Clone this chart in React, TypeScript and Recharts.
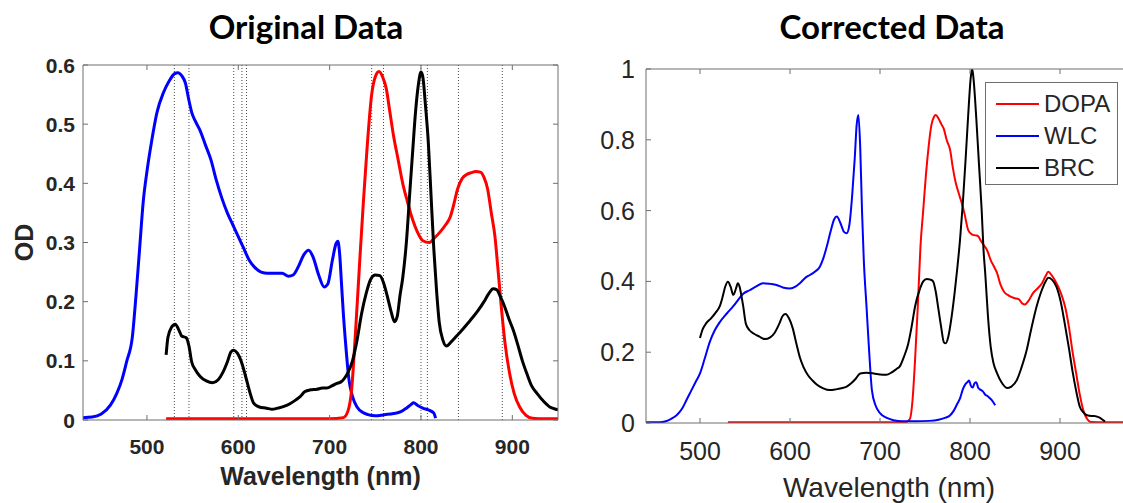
import { LineChart, Line, XAxis, YAxis, ReferenceLine, Legend } from 'recharts';

type Pt = [number, number];

// ---- tick values ----
const xTicks = [500, 600, 700, 800, 900];
const yTicksOrig = [0, 0.1, 0.2, 0.3, 0.4, 0.5, 0.6];
const yTicksCorr = [0, 0.2, 0.4, 0.6, 0.8, 1];
const legendOrder = ['DOPA', 'WLC', 'BRC'];

// dotted markers on the original-data panel (nm)
const markers = [530, 546, 595, 604, 609, 746, 759, 800, 807, 841, 889];

// ---- original data (nm, OD) ----
const wlcOrig: Pt[] = [
  [430, 0.004], [440, 0.005], [450, 0.01], [460, 0.025], [467, 0.045], [473, 0.07], [478, 0.1], [484, 0.14],
  [488, 0.21], [492, 0.29], [496, 0.37], [500, 0.42], [505, 0.47], [511, 0.52], [518, 0.553], [524, 0.572],
  [530, 0.585], [534, 0.587], [538, 0.582], [542, 0.57], [546, 0.54], [549, 0.52], [553, 0.505], [558, 0.49],
  [564, 0.465], [570, 0.44], [576, 0.405], [582, 0.375], [588, 0.35], [594, 0.33], [600, 0.31], [606, 0.29],
  [612, 0.27], [618, 0.258], [625, 0.25], [632, 0.248], [640, 0.248], [648, 0.248], [655, 0.243], [660, 0.245],
  [666, 0.26], [672, 0.28], [677, 0.287], [682, 0.275], [688, 0.245], [694, 0.225], [698, 0.23], [703, 0.27],
  [707, 0.298], [709, 0.302], [711, 0.28], [713, 0.23], [715, 0.18], [718, 0.12], [721, 0.07], [725, 0.04],
  [730, 0.022], [736, 0.013], [742, 0.009], [750, 0.007], [760, 0.009], [770, 0.011], [778, 0.014], [784, 0.02],
  [789, 0.026], [792, 0.029], [796, 0.025], [802, 0.02], [808, 0.017], [814, 0.012], [816, 0.003],
];

const dopaOrig: Pt[] = [
  [521, 0.002], [600, 0.002], [700, 0.002], [715, 0.004], [720, 0.015], [724, 0.05], [728, 0.14], [733, 0.27],
  [737, 0.37], [741, 0.46], [746, 0.55], [750, 0.58], [754, 0.589], [758, 0.58], [762, 0.56], [766, 0.52],
  [770, 0.48], [775, 0.44], [780, 0.4], [785, 0.37], [791, 0.338], [796, 0.318], [802, 0.303], [809, 0.3],
  [815, 0.308], [821, 0.318], [827, 0.33], [832, 0.343], [836, 0.365], [840, 0.39], [845, 0.408], [850, 0.415],
  [855, 0.418], [860, 0.42], [865, 0.419], [869, 0.41], [873, 0.39], [877, 0.35], [881, 0.31], [884, 0.26],
  [888, 0.19], [892, 0.13], [897, 0.079], [902, 0.045], [908, 0.022], [915, 0.008], [922, 0.003], [935, 0.002],
  [950, 0.002],
];

const brcOrig: Pt[] = [
  [521, 0.11], [523, 0.14], [527, 0.157], [531, 0.162], [535, 0.152], [538, 0.142], [543, 0.139], [546, 0.125],
  [549, 0.098], [553, 0.085], [558, 0.074], [565, 0.066], [572, 0.063], [578, 0.068], [583, 0.08], [588, 0.098],
  [592, 0.115], [595, 0.118], [599, 0.113], [603, 0.1], [606, 0.085], [609, 0.068], [613, 0.045], [617, 0.028],
  [623, 0.022], [631, 0.02], [637, 0.018], [643, 0.02], [650, 0.023], [657, 0.028], [663, 0.034], [668, 0.04],
  [673, 0.048], [679, 0.051], [686, 0.052], [692, 0.054], [697, 0.054], [703, 0.058], [708, 0.062], [712, 0.064],
  [716, 0.07], [720, 0.08], [725, 0.1], [730, 0.135], [735, 0.18], [740, 0.214], [745, 0.238], [750, 0.245],
  [755, 0.244], [759, 0.232], [763, 0.21], [767, 0.185], [771, 0.166], [774, 0.175], [777, 0.21], [780, 0.24],
  [784, 0.3], [788, 0.39], [791, 0.456], [794, 0.52], [797, 0.565], [800, 0.588], [802, 0.58], [805, 0.53],
  [808, 0.47], [811, 0.38], [814, 0.29], [817, 0.22], [820, 0.165], [824, 0.135], [828, 0.125], [833, 0.132],
  [839, 0.142], [845, 0.152], [851, 0.163], [857, 0.174], [863, 0.186], [869, 0.2], [874, 0.213], [879, 0.222],
  [883, 0.22], [887, 0.208], [891, 0.194], [896, 0.172], [901, 0.152], [906, 0.127], [911, 0.1], [916, 0.078],
  [921, 0.058], [927, 0.045], [934, 0.032], [941, 0.022], [946, 0.019], [950, 0.017],
];

// ---- corrected data ----
const dopaCorr: Pt[] = [
  [531, 0.002], [600, 0.002], [700, 0.002], [728, 0.002], [733, 0.01], [736, 0.06], [739, 0.18], [742, 0.33],
  [745, 0.5], [748, 0.6], [751, 0.7], [754, 0.78], [757, 0.84], [760, 0.865], [762, 0.87], [765, 0.86],
  [768, 0.845], [771, 0.83], [774, 0.8], [778, 0.77], [781, 0.72], [784, 0.68], [788, 0.645], [791, 0.62],
  [794, 0.59], [798, 0.545], [802, 0.533], [806, 0.53], [809, 0.528], [812, 0.515], [816, 0.5], [819, 0.488],
  [823, 0.46], [827, 0.44], [830, 0.424], [834, 0.39], [838, 0.37], [843, 0.36], [849, 0.353], [854, 0.35],
  [858, 0.338], [861, 0.335], [865, 0.345], [870, 0.367], [875, 0.38], [880, 0.395], [884, 0.415], [887, 0.427],
  [890, 0.42], [894, 0.405], [898, 0.385], [902, 0.36], [906, 0.325], [910, 0.27], [914, 0.2], [918, 0.14],
  [922, 0.08], [926, 0.035], [930, 0.012], [934, 0.003], [950, 0.002], [980, 0.002],
];

const wlcCorr: Pt[] = [
  [440, 0.002], [455, 0.002], [462, 0.005], [468, 0.012], [474, 0.022], [480, 0.04], [485, 0.065], [490, 0.09],
  [495, 0.115], [500, 0.14], [505, 0.18], [511, 0.23], [516, 0.26], [522, 0.285], [530, 0.31], [537, 0.33],
  [543, 0.35], [548, 0.365], [555, 0.375], [562, 0.385], [570, 0.395], [578, 0.393], [585, 0.39], [592, 0.383],
  [600, 0.38], [606, 0.385], [611, 0.395], [617, 0.41], [622, 0.418], [628, 0.428], [633, 0.441], [637, 0.465],
  [641, 0.5], [645, 0.54], [649, 0.575], [652, 0.583], [656, 0.565], [660, 0.54], [663, 0.536], [666, 0.56],
  [669, 0.64], [672, 0.75], [674, 0.84], [676, 0.87], [678, 0.78], [680, 0.6], [682, 0.46], [685, 0.33],
  [688, 0.2], [691, 0.093], [695, 0.05], [700, 0.028], [707, 0.015], [715, 0.008], [725, 0.005], [740, 0.005],
  [755, 0.006], [765, 0.009], [773, 0.015], [778, 0.022], [782, 0.035], [786, 0.055], [789, 0.07], [792, 0.095],
  [795, 0.11], [797, 0.115], [799, 0.12], [801, 0.105], [803, 0.1], [805, 0.112], [807, 0.115], [809, 0.1],
  [811, 0.095], [814, 0.09], [817, 0.08], [820, 0.075], [824, 0.065], [828, 0.05],
];

const brcCorr: Pt[] = [
  [500, 0.24], [503, 0.265], [507, 0.282], [512, 0.295], [518, 0.314], [522, 0.33], [525, 0.355], [528, 0.385],
  [531, 0.399], [534, 0.385], [537, 0.362], [540, 0.38], [542, 0.395], [544, 0.385], [546, 0.36], [548, 0.33],
  [551, 0.28], [555, 0.262], [560, 0.252], [566, 0.244], [572, 0.237], [578, 0.242], [583, 0.255], [588, 0.28],
  [592, 0.303], [595, 0.308], [599, 0.295], [603, 0.268], [607, 0.225], [611, 0.185], [615, 0.158], [620, 0.135],
  [625, 0.12], [630, 0.108], [637, 0.098], [644, 0.093], [651, 0.095], [657, 0.098], [663, 0.103], [668, 0.112],
  [673, 0.125], [678, 0.14], [685, 0.142], [693, 0.14], [700, 0.137], [707, 0.136], [713, 0.143], [718, 0.152],
  [722, 0.16], [727, 0.19], [731, 0.22], [735, 0.27], [739, 0.33], [744, 0.376], [748, 0.4], [752, 0.407],
  [756, 0.405], [759, 0.4], [762, 0.37], [765, 0.32], [768, 0.27], [771, 0.228], [773, 0.225], [776, 0.245],
  [779, 0.29], [783, 0.37], [786, 0.44], [789, 0.52], [792, 0.62], [795, 0.74], [798, 0.87], [801, 0.98],
  [802.5, 1.0], [804, 0.97], [807, 0.86], [810, 0.73], [813, 0.6], [815, 0.49], [817, 0.42], [820, 0.3],
  [823, 0.215], [826, 0.17], [830, 0.141], [835, 0.115], [841, 0.099], [846, 0.103], [852, 0.121], [857, 0.155],
  [863, 0.206], [868, 0.265], [874, 0.329], [879, 0.37], [884, 0.4], [887, 0.41], [891, 0.405], [896, 0.385],
  [901, 0.34], [905, 0.285], [910, 0.21], [914, 0.145], [918, 0.09], [922, 0.046], [926, 0.03], [930, 0.022],
  [935, 0.02], [938, 0.02], [941, 0.018], [944, 0.015], [947, 0.01], [950, 0.004],
];

const AXIS = '#6e6e6e';
const TXT = '#262626';
const ARIAL = '"Liberation Sans", Arial, Helvetica, sans-serif';
const TICK = 5;

const rows = (pts: Pt[]) => pts.map(([x, y]) => ({ x, y }));

// MATLAB style ticks: marks point inward, labels outside
const bottomTick = (fs: number, weight: string, gap: number) => (p: any) => (
  <g>
    <line x1={p.x} x2={p.x} y1={p.y} y2={p.y - TICK} stroke={AXIS} />
    <text x={p.x} y={p.y + gap} textAnchor="middle" fontSize={fs} fontWeight={weight} fontFamily={ARIAL} fill={TXT}>
      {p.payload.value}
    </text>
  </g>
);
const leftTick = (fs: number, weight: string, gap: number) => (p: any) => (
  <g>
    <line x1={p.x} x2={p.x + TICK} y1={p.y} y2={p.y} stroke={AXIS} />
    <text x={p.x - gap} y={p.y + fs * 0.36} textAnchor="end" fontSize={fs} fontWeight={weight} fontFamily={ARIAL} fill={TXT}>
      {p.payload.value}
    </text>
  </g>
);
const topTick = (p: any) => <line x1={p.x} x2={p.x} y1={p.y} y2={p.y + TICK} stroke={AXIS} />;
const rightTick = (p: any) => <line x1={p.x} x2={p.x - TICK} y1={p.y} y2={p.y} stroke={AXIS} />;

const odLabel = ({ viewBox }: any) => {
  const cx = viewBox.x + 23.5;
  const cy = viewBox.y + viewBox.height / 2;
  return (
    <text x={cx} y={cy} dy="0.36em" transform={`rotate(-90 ${cx} ${cy})`} textAnchor="middle"
      fontSize={25} fontWeight="bold" fontFamily={ARIAL} fill={TXT}>
      OD
    </text>
  );
};

const legendContent = ({ payload }: any) => {
  const items = [...(payload || [])].sort(
    (a: any, b: any) => legendOrder.indexOf(a.value) - legendOrder.indexOf(b.value),
  );
  return (
    <div style={{ width: 131, height: 96, paddingTop: 5, border: `1px solid ${AXIS}`, background: '#fff',
      fontFamily: ARIAL, fontSize: 24, color: TXT }}>
      {items.map((e: any) => (
        <div key={e.value} style={{ height: 32, display: 'flex', alignItems: 'center' }}>
          <svg width={58} height={32}>
            <line x1={10} x2={53} y1={16} y2={16} stroke={e.color} strokeWidth={2} />
          </svg>
          <span>{e.value}</span>
        </div>
      ))}
    </div>
  );
};

const titleStyle = (cx: number): React.CSSProperties => ({
  position: 'absolute', left: cx - 160, width: 320, top: 7, textAlign: 'center',
  fontFamily: 'Lato, "Open Sans", sans-serif', fontWeight: 700, fontSize: 33, lineHeight: '38px', color: '#000',
});

function OriginalPanel() {
  return (
    <LineChart width={570} height={503} margin={{ top: 64, right: 11, bottom: 0, left: 0 }}>
      <XAxis xAxisId="b" type="number" dataKey="x" domain={[430, 950]} ticks={xTicks} allowDataOverflow
        height={83} tickSize={0} tickMargin={0} axisLine={{ stroke: AXIS }} tickLine={false}
        tick={bottomTick(21, 'bold', 34)}
        label={{ value: 'Wavelength (nm)', position: 'insideBottom', offset: 18, fontSize: 25, fontWeight: 'bold', fontFamily: ARIAL, fill: TXT }} />
      <XAxis xAxisId="t" orientation="top" type="number" dataKey="x" domain={[430, 950]} ticks={xTicks} allowDataOverflow
        height={1} tickSize={0} tickMargin={0} axisLine={{ stroke: AXIS }} tickLine={false} tick={topTick} />
      <YAxis yAxisId="l" type="number" domain={[0, 0.6]} ticks={yTicksOrig} allowDataOverflow width={83}
        tickSize={0} tickMargin={0} axisLine={{ stroke: AXIS }} tickLine={false} tick={leftTick(21, 'bold', 8)}
        label={odLabel} />
      <YAxis yAxisId="r" orientation="right" type="number" domain={[0, 0.6]} ticks={yTicksOrig} allowDataOverflow width={1}
        tickSize={0} tickMargin={0} axisLine={{ stroke: AXIS }} tickLine={false} tick={rightTick} />
      {markers.map((m) => (
        <ReferenceLine key={m} x={m} xAxisId="b" yAxisId="l" stroke="#4a4a4a" strokeDasharray="1 2" strokeWidth={1} />
      ))}
      <Line xAxisId="b" yAxisId="l" data={rows(wlcOrig)} dataKey="y" name="WLC" type="monotone" stroke="#0000ff"
        strokeWidth={3} dot={false} activeDot={false} isAnimationActive={false} />
      <Line xAxisId="b" yAxisId="l" data={rows(dopaOrig)} dataKey="y" name="DOPA" type="monotone" stroke="#ff0000"
        strokeWidth={3} dot={false} activeDot={false} isAnimationActive={false} />
      <Line xAxisId="b" yAxisId="l" data={rows(brcOrig)} dataKey="y" name="BRC" type="monotone" stroke="#000000"
        strokeWidth={3} dot={false} activeDot={false} isAnimationActive={false} />
    </LineChart>
  );
}

function CorrectedPanel() {
  return (
    <LineChart width={563} height={503} margin={{ top: 68, right: 10, bottom: 0, left: 0 }}>
      <XAxis xAxisId="b" type="number" dataKey="x" domain={[440, 980]} ticks={xTicks} allowDataOverflow
        height={80} tickSize={0} tickMargin={0} axisLine={{ stroke: AXIS }} tickLine={false}
        tick={bottomTick(25, 'normal', 37)}
        label={{ value: 'Wavelength (nm)', position: 'insideBottom', offset: 6, fontSize: 28, fontFamily: ARIAL, fill: TXT }} />
      <XAxis xAxisId="t" orientation="top" type="number" dataKey="x" domain={[440, 980]} ticks={xTicks} allowDataOverflow
        height={1} tickSize={0} tickMargin={0} axisLine={{ stroke: AXIS }} tickLine={false} tick={topTick} />
      <YAxis yAxisId="l" type="number" domain={[0, 1]} ticks={yTicksCorr} allowDataOverflow width={66}
        tickSize={0} tickMargin={0} axisLine={{ stroke: AXIS }} tickLine={false} tick={leftTick(25, 'normal', 11)} />
      <YAxis yAxisId="r" orientation="right" type="number" domain={[0, 1]} ticks={yTicksCorr} allowDataOverflow width={1}
        tickSize={0} tickMargin={0} axisLine={{ stroke: AXIS }} tickLine={false} tick={rightTick} />
      <Legend layout="vertical" align="center" verticalAlign="middle" content={legendContent}
        wrapperStyle={{ left: 405, top: 82, width: 133, height: 103 }} />
      <Line xAxisId="b" yAxisId="l" data={rows(dopaCorr)} dataKey="y" name="DOPA" type="monotone" stroke="#ff0000"
        strokeWidth={2} dot={false} activeDot={false} isAnimationActive={false} />
      <Line xAxisId="b" yAxisId="l" data={rows(wlcCorr)} dataKey="y" name="WLC" type="monotone" stroke="#0000ff"
        strokeWidth={2} dot={false} activeDot={false} isAnimationActive={false} />
      <Line xAxisId="b" yAxisId="l" data={rows(brcCorr)} dataKey="y" name="BRC" type="monotone" stroke="#000000"
        strokeWidth={2} dot={false} activeDot={false} isAnimationActive={false} />
    </LineChart>
  );
}

export default function App() {
  return (
    <div style={{ position: 'fixed', left: 0, top: 0, width: 1123, height: 503, overflow: 'hidden', background: '#fff' }}>
      <div style={{ position: 'absolute', left: 0, top: 0 }}>
        <OriginalPanel />
      </div>
      <div style={{ position: 'absolute', left: 580, top: 0 }}>
        <CorrectedPanel />
      </div>
      <div style={titleStyle(306)}>Original Data</div>
      <div style={titleStyle(892)}>Corrected Data</div>
    </div>
  );
}
